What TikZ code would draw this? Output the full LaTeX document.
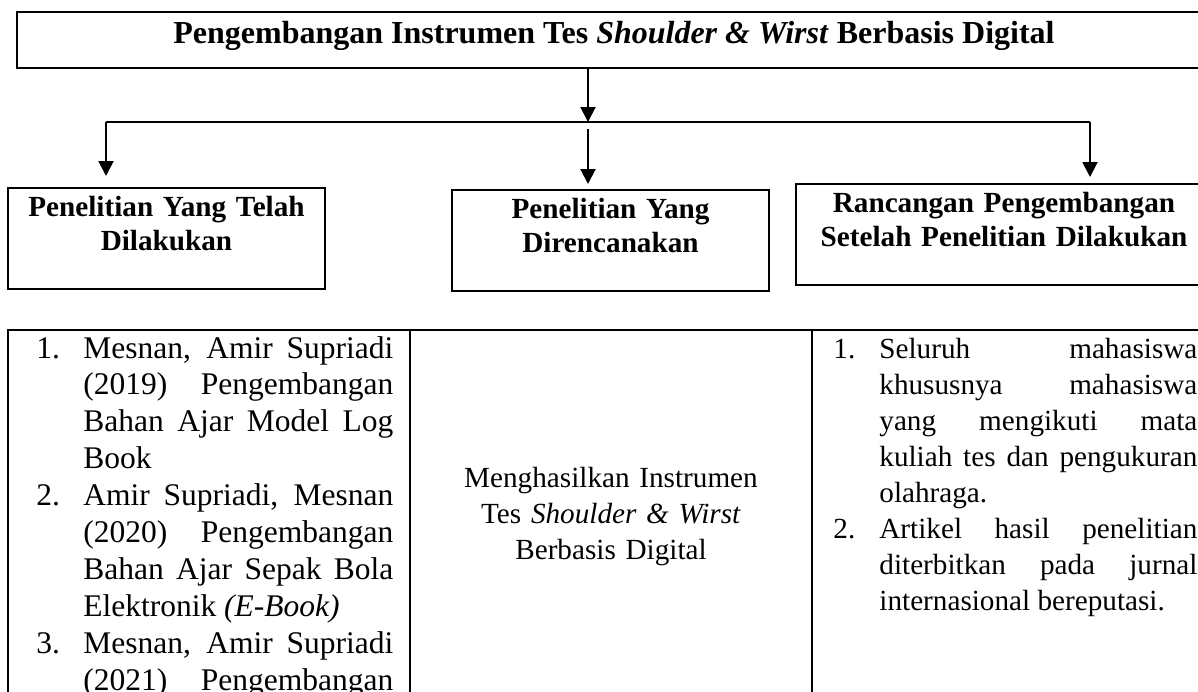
\documentclass[tikz,border=0pt]{standalone}
\usepackage{fontspec}
\setmainfont{Liberation Serif}
\usetikzlibrary{positioning,arrows.meta}

\begin{document}
\begin{tikzpicture}[x=0.5pt,y=-0.5pt,
  box/.style={draw,line width=1pt,inner sep=0pt},
  arr/.style={line width=1pt,-{Triangle[length=7.5pt,width=7.5pt]}},
  head/.style={font=\fontsize{14.6}{17}\selectfont\bfseries,text width=200pt,align=center,inner sep=0pt},
  body/.style={font=\fontsize{14.6}{18}\selectfont,align=justify,inner sep=0pt,anchor=base west,
    execute at begin node={\tolerance=10000\relax}},
  bigbody/.style={body,font=\fontsize{15.75}{18.45}\selectfont},
  num/.style={font=\fontsize{14.6}{18}\selectfont,inner sep=0pt,anchor=base west},
  bignum/.style={num,font=\fontsize{15.75}{18.45}\selectfont}]
  \useasboundingbox (0,0) rectangle (1198,691);
  \clip (0,0) rectangle (1198,691);
  % title box
  \node[box,minimum width=597pt,minimum height=28pt] (top) at (614,40) {};
  \node[font=\fontsize{16}{18}\selectfont\bfseries,inner sep=0pt,anchor=base] (toptext) at (614,43)
    {Pengembangan Instrumen Tes \textit{Shoulder \& Wirst} Berbasis Digital};
  % three heading boxes
  \node[box,minimum width=158.5pt,minimum height=50.5pt] (b1) at (166.5,238.5) {};
  \node[box,minimum width=158.5pt,minimum height=50.5pt] (b2) at (610.5,240.5) {};
  \node[box,minimum width=208pt,minimum height=50.5pt] (b3) at (1004,234.5) {};
  \node[head,below=4.5pt of b1.north] (h1) {Penelitian Yang Telah\\Dilakukan};
  \node[head,below=4.5pt of b2.north] (h2) {Penelitian Yang\\Direncanakan};
  \node[head,below=4.5pt of b3.north] (h3) {Rancangan Pengembangan\\Setelah Penelitian Dilakukan};
  % connectors
  \coordinate (hub) at (588,122);
  \coordinate (lj) at (106,122);
  \coordinate (rj) at (1090,122);
  \draw[arr] (top.south -| hub) -- (hub);
  \draw[line width=0.7pt] (lj) -- (rj);
  \draw[arr] (lj) -- ([yshift=5.5pt]lj |- b1.north);
  \draw[arr] ([yshift=-3.5pt]hub) -- ([yshift=2.5pt]hub |- b2.north);
  \draw[arr] (rj) -- ([yshift=3pt]rj |- b3.north);
  % table
  \draw[line width=1pt] (8,720) -- (8,330) -- (1220,330);
  \draw[line width=1pt] (410,330) -- (410,720) (812,330) -- (812,720);
  % column 1
  \node[bignum] (n11) at (36,358) {1.};
  \node[bigbody,text width=155pt] (t11) at (83,358)
    {Mesnan, Amir Supriadi\linebreak (2019) Pengembangan\linebreak Bahan Ajar Model Log\linebreak Book};
  \node[bignum] (n12) at (36,505.6) {2.};
  \node[bigbody,text width=155pt] (t12) at (83,505.6)
    {Amir Supriadi, Mesnan\linebreak (2020) Pengembangan\linebreak Bahan Ajar Sepak Bola\linebreak Elektronik \textit{(E-Book)}};
  \node[bignum] (n13) at (36,653.2) {3.};
  \node[bigbody,text width=155pt] (t13) at (83,653.2)
    {Mesnan, Amir Supriadi\linebreak (2021)\hfill Pengembangan};
  % column 2
  \node[font=\fontsize{14.6}{18}\selectfont,text width=190pt,align=center,inner sep=0pt,anchor=base] (mid) at (611,487)
    {Menghasilkan Instrumen\\Tes \textit{Shoulder \& Wirst}\\Berbasis Digital};
  % column 3
  \node[num] (n31) at (833,358) {1.};
  \node[body,text width=159pt] (t31) at (879,358)
    {Seluruh mahasiswa\linebreak khususnya mahasiswa\linebreak yang mengikuti mata\linebreak kuliah tes dan pengukuran\linebreak olahraga.};
  \node[num] (n32) at (833,538) {2.};
  \node[body,text width=159pt] (t32) at (879,538)
    {Artikel hasil penelitian\linebreak diterbitkan pada jurnal\linebreak internasional bereputasi.};
\end{tikzpicture}
\end{document}
